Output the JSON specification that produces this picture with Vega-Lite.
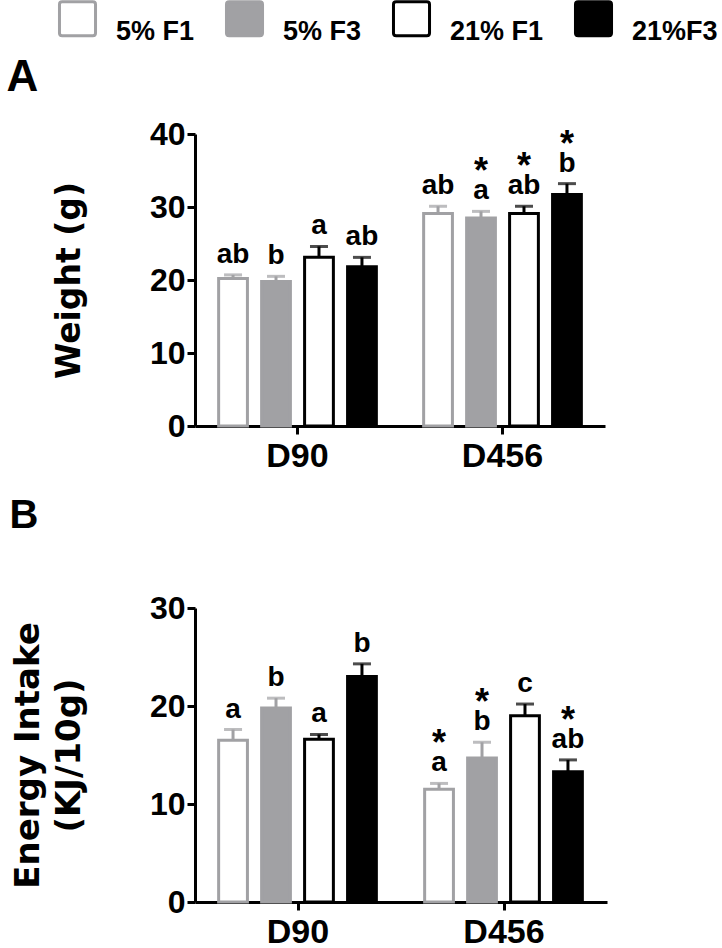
{
  "$schema": "https://vega.github.io/schema/vega-lite/v6.json",
  "padding": {"left": 6, "top": 0, "right": 0, "bottom": 0},
  "bounds": "flush",
  "spacing": 182,
  "datasets": {
    "weight": [
      {"day": "D90", "group": "5% F1", "mean": 20.2, "err": 20.7, "letter": "ab", "star": ""},
      {"day": "D90", "group": "5% F3", "mean": 19.8, "err": 20.5, "letter": "b", "star": ""},
      {"day": "D90", "group": "21% F1", "mean": 23.1, "err": 24.6, "letter": "a", "star": ""},
      {"day": "D90", "group": "21%F3", "mean": 21.8, "err": 23.1, "letter": "ab", "star": ""},
      {"day": "D456", "group": "5% F1", "mean": 29.1, "err": 30.1, "letter": "ab", "star": ""},
      {"day": "D456", "group": "5% F3", "mean": 28.5, "err": 29.4, "letter": "a", "star": "*"},
      {"day": "D456", "group": "21% F1", "mean": 29.1, "err": 30.1, "letter": "ab", "star": "*"},
      {"day": "D456", "group": "21%F3", "mean": 31.7, "err": 33.2, "letter": "b", "star": "*"}
    ],
    "energy": [
      {"day": "D90", "group": "5% F1", "mean": 16.5, "err": 17.6, "letter": "a", "star": ""},
      {"day": "D90", "group": "5% F3", "mean": 19.8, "err": 20.8, "letter": "b", "star": ""},
      {"day": "D90", "group": "21% F1", "mean": 16.6, "err": 17.1, "letter": "a", "star": ""},
      {"day": "D90", "group": "21%F3", "mean": 23.0, "err": 24.3, "letter": "b", "star": ""},
      {"day": "D456", "group": "5% F1", "mean": 11.5, "err": 12.1, "letter": "a", "star": "*"},
      {"day": "D456", "group": "5% F3", "mean": 14.7, "err": 16.3, "letter": "b", "star": "*"},
      {"day": "D456", "group": "21% F1", "mean": 19.0, "err": 20.2, "letter": "c", "star": ""},
      {"day": "D456", "group": "21%F3", "mean": 13.3, "err": 14.5, "letter": "ab", "star": "*"}
    ]
  },
  "config": {
    "view": {"stroke": null},
    "font": "Liberation Sans",
    "axis": {
      "domainColor": "black", "domainWidth": 3, "tickColor": "black", "tickWidth": 3, "tickSize": 8,
      "labelFont": "Liberation Sans", "labelFontWeight": "bold", "labelColor": "black", "grid": false,
      "titleFont": "DejaVu Sans", "titleFontWeight": "bold", "titleColor": "black"
    }
  },
  "resolve": {"scale": {"fill": "shared", "stroke": "shared", "color": "shared"}},
  "vconcat": [
    {
      "data": {"name": "weight"},
      "width": 410,
      "height": 292,
      "title": {"text": "A", "anchor": "start", "frame": "bounds", "font": "Liberation Sans", "fontSize": 44, "fontWeight": "bold", "color": "black", "dx": -47, "offset": 18},
      "encoding": {
        "x": {"field": "day", "type": "nominal", "sort": ["D90", "D456"], "scale": {"paddingInner": 0, "paddingOuter": 0},
              "axis": {"title": null, "labelAngle": 0, "labelFontSize": 34, "labelPadding": 5}},
        "xOffset": {"field": "group", "type": "nominal", "sort": ["5% F1", "5% F3", "21% F1", "21%F3"], "scale": {"paddingInner": 0.33, "paddingOuter": 0.55}}
      },
      "layer": [
        {
          "mark": {"type": "bar", "strokeWidth": 3},
          "encoding": {
            "y": {"field": "mean", "type": "quantitative", "title": "Weight (g)", "scale": {"domain": [0, 40], "nice": false},
                  "axis": {"values": [0, 10, 20, 30, 40], "titleFontSize": 33, "titlePadding": 63, "labelFontSize": 32, "labelPadding": 2}},
            "fill": {"field": "group", "type": "nominal", "sort": ["5% F1", "5% F3", "21% F1", "21%F3"],
                     "scale": {"domain": ["5% F1", "5% F3", "21% F1", "21%F3"], "range": ["white", "#a1a1a4", "white", "black"]},
                     "legend": {"orient": "none", "legendX": -136, "legendY": -134, "direction": "horizontal", "title": null, "padding": 0,
                                "symbolType": "M-0.9,-1H0.9Q1.06,-1 1.06,-0.84V0.84Q1.06,1 0.9,1H-0.9Q-1.06,1 -1.06,0.84V-0.84Q-1.06,-1 -0.9,-1Z", "symbolSize": 1156, "symbolStrokeWidth": 3,
                                "labelFont": "Liberation Sans", "labelFontSize": 27, "labelFontWeight": "bold", "labelColor": "black",
                                "labelOffset": 20, "columnPadding": 25, "labelBaseline": "top", "labelLimit": 200}},
            "stroke": {"field": "group", "type": "nominal", "sort": ["5% F1", "5% F3", "21% F1", "21%F3"],
                       "scale": {"domain": ["5% F1", "5% F3", "21% F1", "21%F3"], "range": ["#a1a1a4", "#a1a1a4", "black", "black"]},
                       "legend": {"orient": "none", "legendX": -136, "legendY": -134, "direction": "horizontal", "title": null, "padding": 0,
                                "symbolType": "M-0.9,-1H0.9Q1.06,-1 1.06,-0.84V0.84Q1.06,1 0.9,1H-0.9Q-1.06,1 -1.06,0.84V-0.84Q-1.06,-1 -0.9,-1Z", "symbolSize": 1156, "symbolStrokeWidth": 3,
                                "labelFont": "Liberation Sans", "labelFontSize": 27, "labelFontWeight": "bold", "labelColor": "black",
                                "labelOffset": 20, "columnPadding": 25, "labelBaseline": "top", "labelLimit": 200}}
          }
        },
        {
          "mark": {"type": "rule", "strokeWidth": 3},
          "encoding": {
            "y": {"field": "mean", "type": "quantitative", "title": "Weight (g)"},
            "y2": {"field": "err"},
            "color": {"field": "group", "type": "nominal", "scale": {"domain": ["5% F1", "5% F3", "21% F1", "21%F3"], "range": ["#a1a1a4", "#a1a1a4", "black", "black"]}, "legend": null}
          }
        },
        {
          "mark": {"type": "tick", "orient": "horizontal", "size": 18, "thickness": 3},
          "encoding": {
            "y": {"field": "err", "type": "quantitative", "title": "Weight (g)"},
            "color": {"field": "group", "type": "nominal", "scale": {"domain": ["5% F1", "5% F3", "21% F1", "21%F3"], "range": ["#a1a1a4", "#a1a1a4", "black", "black"]}, "legend": null}
          }
        },
        {
          "mark": {"type": "text", "font": "Liberation Sans", "fontWeight": "bold", "fontSize": 28, "baseline": "alphabetic", "dy": -12, "color": "black"},
          "encoding": {
            "y": {"field": "err", "type": "quantitative", "title": "Weight (g)"},
            "text": {"field": "letter"}
          }
        },
        {
          "mark": {"type": "text", "font": "Liberation Sans", "fontWeight": "bold", "fontSize": 36, "baseline": "alphabetic", "dy": -28, "color": "black"},
          "encoding": {
            "y": {"field": "err", "type": "quantitative", "title": "Weight (g)"},
            "text": {"field": "star"}
          }
        }
      ]
    },
    {
      "data": {"name": "energy"},
      "width": 412,
      "height": 294,
      "title": {"text": "B", "anchor": "start", "frame": "bounds", "font": "Liberation Sans", "fontSize": 40, "fontWeight": "bold", "color": "black", "dx": -2, "offset": 56},
      "encoding": {
        "x": {"field": "day", "type": "nominal", "sort": ["D90", "D456"], "scale": {"paddingInner": 0, "paddingOuter": 0},
              "axis": {"title": null, "labelAngle": 0, "labelFontSize": 34, "labelPadding": 5}},
        "xOffset": {"field": "group", "type": "nominal", "sort": ["5% F1", "5% F3", "21% F1", "21%F3"], "scale": {"paddingInner": 0.33, "paddingOuter": 0.55}}
      },
      "layer": [
        {
          "mark": {"type": "bar", "strokeWidth": 3},
          "encoding": {
            "y": {"field": "mean", "type": "quantitative", "title": ["Energy Intake", "(KJ/10g)"], "scale": {"domain": [0, 30], "nice": false},
                  "axis": {"values": [0, 10, 20, 30], "titleFontSize": 34, "titleLineHeight": 41, "titlePadding": 63, "labelFontSize": 32, "labelPadding": 2}},
            "fill": {"field": "group", "type": "nominal", "sort": ["5% F1", "5% F3", "21% F1", "21%F3"],
                     "legend": {"orient": "none", "legendX": -136, "legendY": -134, "direction": "horizontal", "title": null, "padding": 0,
                                "symbolType": "M-0.9,-1H0.9Q1.06,-1 1.06,-0.84V0.84Q1.06,1 0.9,1H-0.9Q-1.06,1 -1.06,0.84V-0.84Q-1.06,-1 -0.9,-1Z", "symbolSize": 1156, "symbolStrokeWidth": 3,
                                "labelFont": "Liberation Sans", "labelFontSize": 27, "labelFontWeight": "bold", "labelColor": "black",
                                "labelOffset": 20, "columnPadding": 25, "labelBaseline": "top", "labelLimit": 200}},
            "stroke": {"field": "group", "type": "nominal", "sort": ["5% F1", "5% F3", "21% F1", "21%F3"],
                       "legend": {"orient": "none", "legendX": -136, "legendY": -134, "direction": "horizontal", "title": null, "padding": 0,
                                "symbolType": "M-0.9,-1H0.9Q1.06,-1 1.06,-0.84V0.84Q1.06,1 0.9,1H-0.9Q-1.06,1 -1.06,0.84V-0.84Q-1.06,-1 -0.9,-1Z", "symbolSize": 1156, "symbolStrokeWidth": 3,
                                "labelFont": "Liberation Sans", "labelFontSize": 27, "labelFontWeight": "bold", "labelColor": "black",
                                "labelOffset": 20, "columnPadding": 25, "labelBaseline": "top", "labelLimit": 200}}
          }
        },
        {
          "mark": {"type": "rule", "strokeWidth": 3},
          "encoding": {
            "y": {"field": "mean", "type": "quantitative", "title": ["Energy Intake", "(KJ/10g)"]},
            "y2": {"field": "err"},
            "color": {"field": "group", "type": "nominal", "legend": null}
          }
        },
        {
          "mark": {"type": "tick", "orient": "horizontal", "size": 18, "thickness": 3},
          "encoding": {
            "y": {"field": "err", "type": "quantitative", "title": ["Energy Intake", "(KJ/10g)"]},
            "color": {"field": "group", "type": "nominal", "legend": null}
          }
        },
        {
          "mark": {"type": "text", "font": "Liberation Sans", "fontWeight": "bold", "fontSize": 28, "baseline": "alphabetic", "dy": -12, "color": "black"},
          "encoding": {
            "y": {"field": "err", "type": "quantitative", "title": ["Energy Intake", "(KJ/10g)"]},
            "text": {"field": "letter"}
          }
        },
        {
          "mark": {"type": "text", "font": "Liberation Sans", "fontWeight": "bold", "fontSize": 36, "baseline": "alphabetic", "dy": -28, "color": "black"},
          "encoding": {
            "y": {"field": "err", "type": "quantitative", "title": ["Energy Intake", "(KJ/10g)"]},
            "text": {"field": "star"}
          }
        }
      ]
    }
  ]
}
